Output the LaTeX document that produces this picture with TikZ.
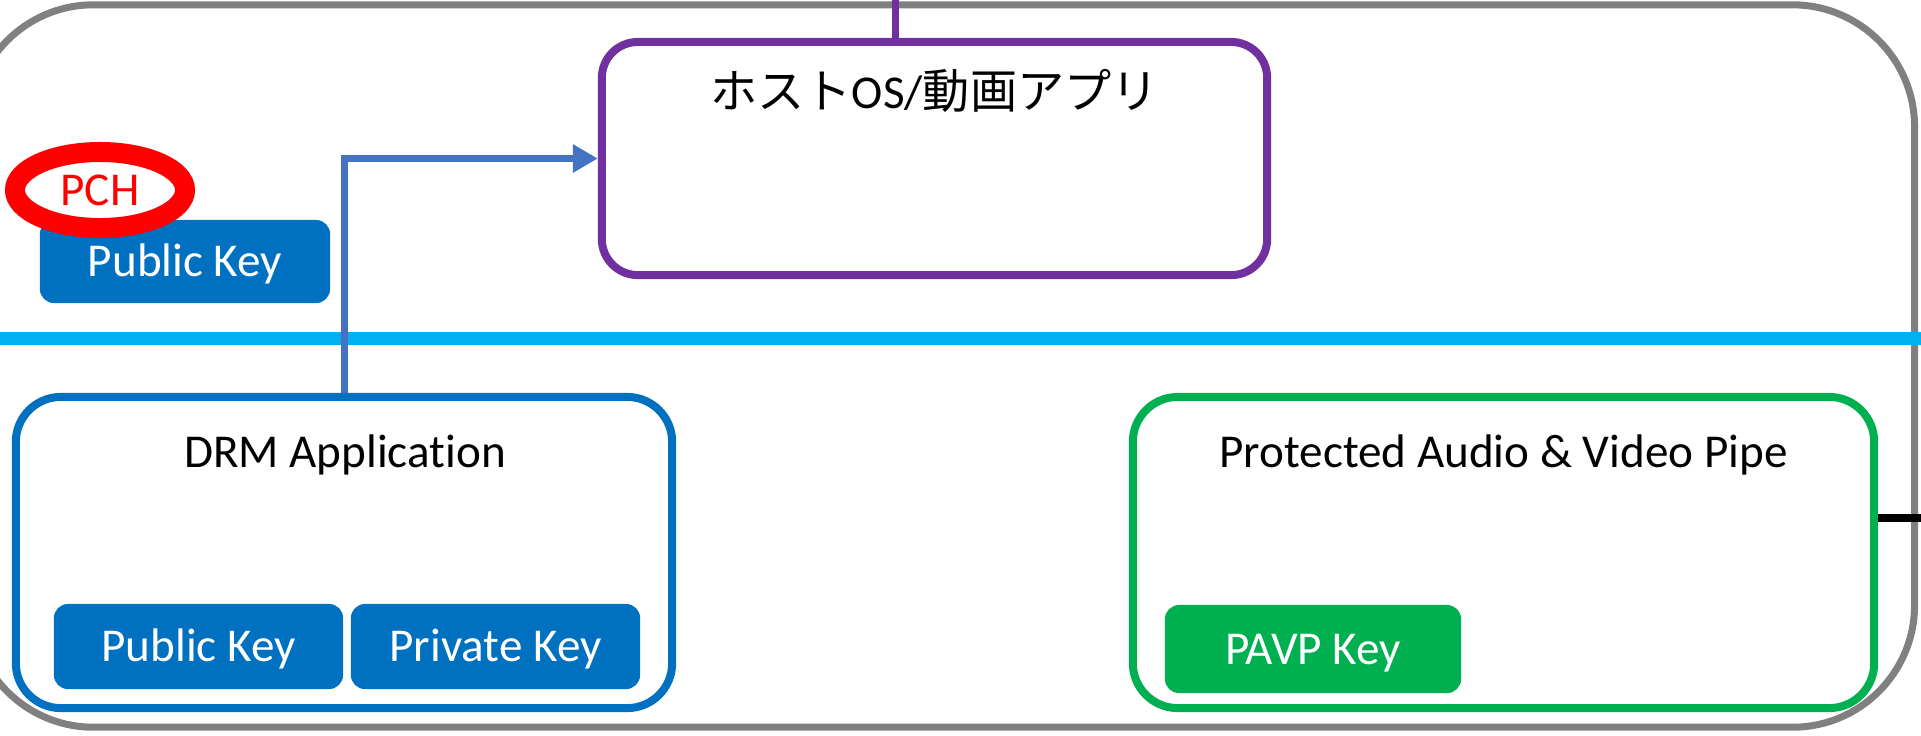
\documentclass[tikz,border=0pt]{standalone}
\usepackage{fontspec}
\setmainfont{Carlito}[Ligatures={NoCommon}]
\newfontfamily\cjk{Noto Sans CJK JP}
\usetikzlibrary{arrows.meta,shapes.geometric}
\definecolor{outergray}{HTML}{808080}
\definecolor{cyanline}{HTML}{00B0F0}
\definecolor{hostpurple}{HTML}{7030A0}
\definecolor{drmblue}{HTML}{0070C0}
\definecolor{arrowblue}{HTML}{4472C4}
\definecolor{pavpgreen}{HTML}{00B050}
\begin{document}
\begin{tikzpicture}[x=0.01cm, y=-0.01cm,
  frame/.style={draw=#1, rounded corners=0.45cm, line width=0.08cm, fill=white, inner sep=0pt},
  keybox/.style={fill=#1, rounded corners=0.14cm, inner sep=0pt, text=white,
    font=\fontsize{13.4}{16}\selectfont, text height=8.6pt, text depth=0pt},
  title/.style={font=\fontsize{13.4}{16}\selectfont, anchor=base, inner sep=0pt}]
\useasboundingbox (0,0) rectangle (1921,735);
% outer frame
\node[draw=outergray, line width=0.07cm, rounded corners=1.22cm, inner sep=0pt,
  minimum width=19.42cm, minimum height=7.22cm] (outer) at (943,366) {};
% cyan boundary line
\coordinate (cl) at (0,338);
\coordinate (cr) at (1921,338);
\draw[cyanline, line width=0.13cm] (cl) -- (cr);
% host box
\node[frame=hostpurple, rounded corners=0.36cm, minimum width=6.65cm, minimum height=2.33cm] (host) at (934.5,158.5) {};
\node[title] (hosttext) at (934.5,108) {{\cjk ホスト}OS/{\cjk 動画アプリ}};
\coordinate (hosttop) at (895,0);
\draw[hostpurple, line width=0.07cm] (host.north -| hosttop) -- (hosttop);
% DRM application
\node[frame=drmblue, minimum width=6.56cm, minimum height=3.11cm] (drm) at (344,552.5) {};
\node[title] (drmtext) at (345,467) {DRM Application};
\node[keybox=drmblue, minimum width=2.89cm, minimum height=0.85cm] (pub) at (198.5,646.5) {Public Key};
\node[keybox=drmblue, minimum width=2.89cm, minimum height=0.85cm] (priv) at (495.5,646.5) {Private Key};
% protected pipe
\node[frame=pavpgreen, minimum width=7.41cm, minimum height=3.11cm] (pavp) at (1503.5,552.5) {};
\node[title] (pavptext) at (1503.5,467) {Protected Audio \& Video Pipe};
\node[keybox=pavpgreen, minimum width=2.96cm, minimum height=0.88cm] (pavpkey) at (1313,649) {PAVP Key};
\coordinate (blk) at (1921,518);
\draw[black, line width=0.08cm] (pavp.east |- blk) -- (blk);
% PCH public key
\node[keybox=drmblue, minimum width=2.90cm, minimum height=0.83cm] (pchkey) at (185,261.5) {Public Key};
\node[ellipse, draw=red, line width=0.2cm, minimum width=1.70cm, minimum height=0.76cm,
  inner sep=0pt, text=red, font=\fontsize{13.4}{16}\selectfont, text height=8.6pt, text depth=0pt] (pch) at (100,190) {PCH};
% arrow
\draw[arrowblue, line width=0.07cm, -{Triangle[length=0.25cm,width=0.27cm]}] (drm.north) |- (host.west);
\end{tikzpicture}
\end{document}
